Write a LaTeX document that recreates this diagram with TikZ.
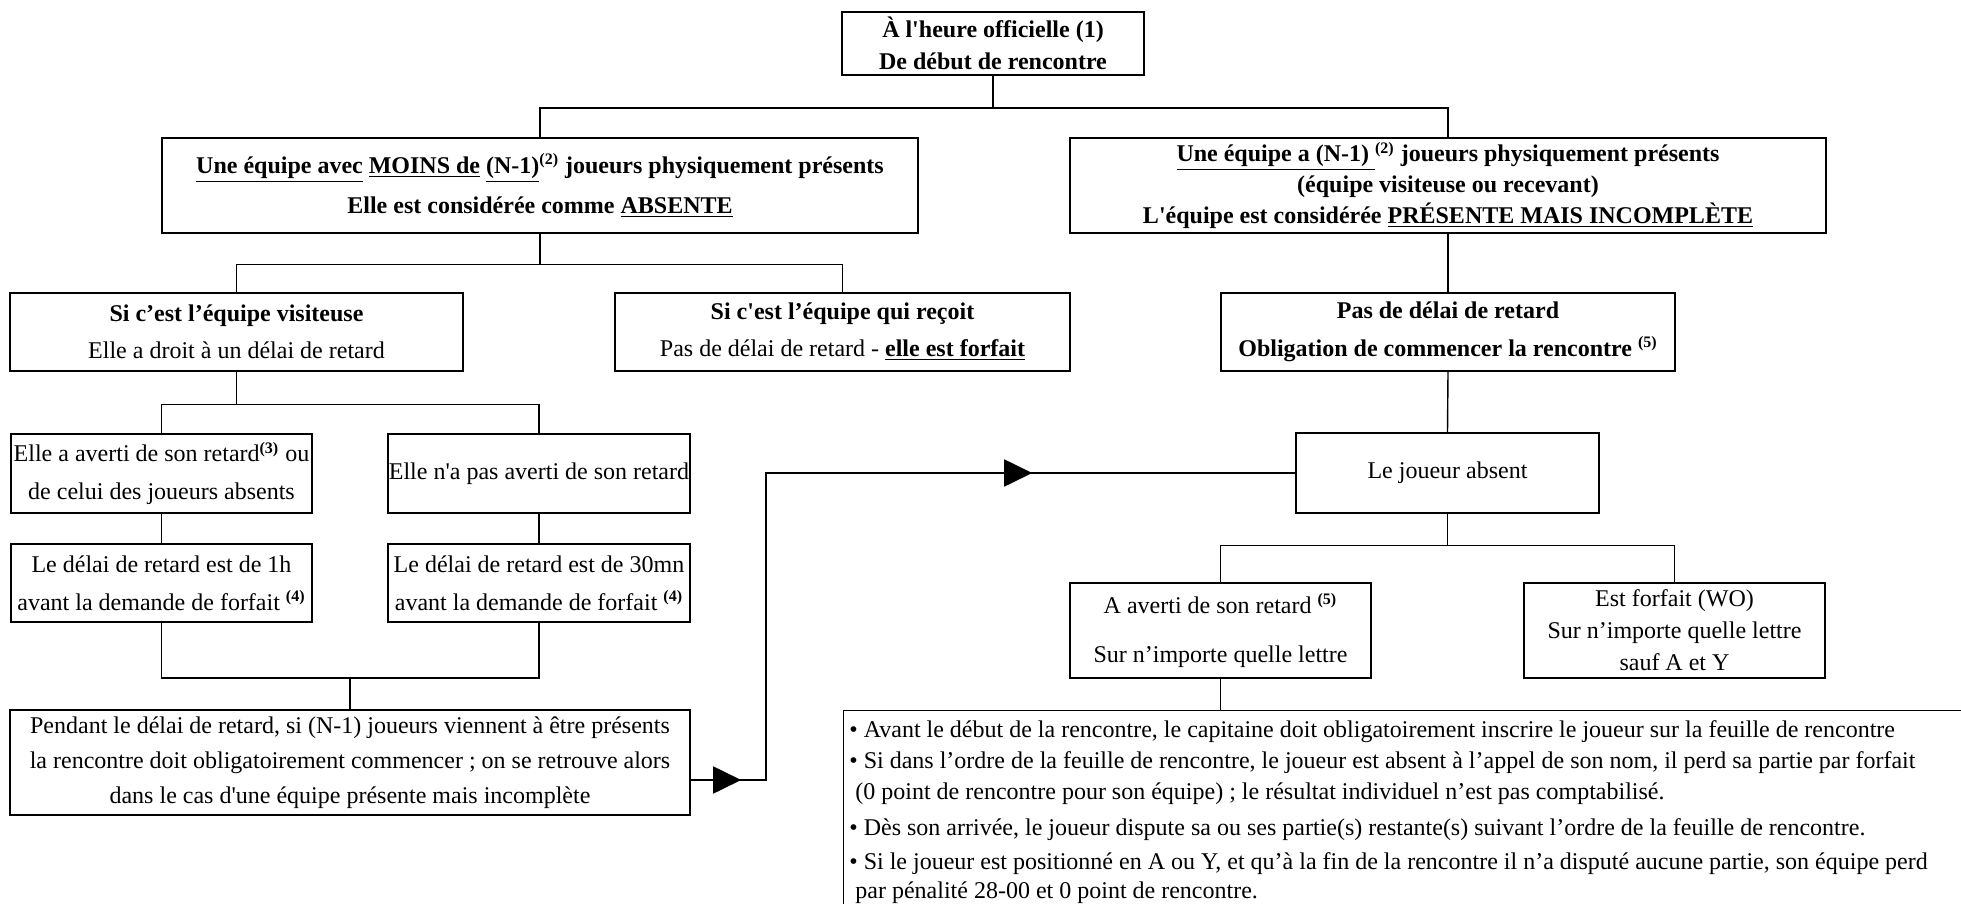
\documentclass[tikz,border=0pt]{standalone}
\usepackage{fontspec}
\setmainfont{Liberation Serif}
\usetikzlibrary{arrows.meta, positioning, calc, decorations.markings}

% straight apostrophe (the TeX mapping would curl ')
\newcommand{\ap}{\textquotesingle}

\begin{document}
\begin{tikzpicture}[x=0.5pt, y=-0.5pt, line join=miter]
	
	%======================
	% PAGE (pixel grid, y downwards)
	%======================
	\useasboundingbox (0,0) rectangle (1961,904);
	
	%======================
	% STYLES
	%======================
	\tikzset{
		box/.style={draw, line width=1.2pt, align=center, inner sep=0pt},
		txt/.style={font=\fontsize{12}{#1}\selectfont},
		btxt/.style={font=\fontsize{12}{#1}\selectfont\bfseries},
		link/.style={line width=0.7pt},
		flow/.style={line width=0.9pt, postaction={decorate},
			decoration={markings,
				mark=at position 25pt with {\arrow{Triangle[length=14pt,width=13.5pt]}},
				mark=at position 324pt with {\arrow{Triangle[length=14pt,width=13.5pt]}}}},
		frame/.style={line width=0.5pt}
	}
	
	%----------------------
	% Level 0: start
	%----------------------
	\node[box, btxt=16, minimum width=151pt, minimum height=31.5pt] (debut) at (993,43.5)
	{À l\ap heure officielle (1)\\De début de rencontre};
	
	%----------------------
	% Level 1: absent / incomplete team
	%----------------------
	\node[box, btxt=20, minimum width=378pt, minimum height=47.5pt] (absente) at (540,185.5)
	{\underline{Une équipe avec} \underline{MOINS de} \underline{(N-1)}\textsuperscript{(2)} joueurs physiquement présents\\
		Elle est considérée comme \underline{ABSENTE}};
	
	\node[box, btxt=15.5, minimum width=378pt, minimum height=47.5pt] (incomplete) at (1448,185.5)
	{\underline{Une équipe a (N-1) }\textsuperscript{(2)} joueurs physiquement présents\\
		(équipe visiteuse ou recevant)\\
		L\ap équipe est considérée \underline{PRÉSENTE MAIS INCOMPLÈTE}};
	
	%----------------------
	% Level 2
	%----------------------
	\node[box, txt=18.5, minimum width=226.5pt, minimum height=39pt] (visiteuse) at (236.5,332)
	{\textbf{Si c’est l’équipe visiteuse}\\Elle a droit à un délai de retard};
	
	\node[box, txt=18.5, minimum width=227.5pt, minimum height=39pt] (recoit) at (842.5,332)
	{\textbf{Si c\ap est l’équipe qui reçoit}\\Pas de délai de retard - \textbf{\underline{elle est forfait}}};
	
	\node[box, btxt=19, minimum width=227pt, minimum height=39pt] (sansdelai) at (1448,332)
	{Pas de délai de retard\\Obligation de commencer la rencontre \textsuperscript{(5)}};
	
	%----------------------
	% Level 3: visiting team, warned or not
	%----------------------
	\node[box, txt=19, minimum width=150.5pt, minimum height=39.5pt] (averti) at (161.5,473.5)
	{Elle a averti de son retard\textsuperscript{\textbf{(3)}} ou\\de celui des joueurs absents};
	
	\node[box, txt=19, minimum width=151pt, minimum height=39.5pt] (nonaverti) at (539,473.5)
	{Elle n\ap a pas averti de son retard};
	
	\node[box, txt=19, minimum width=150.5pt, minimum height=39pt] (uneheure) at (161.5,583)
	{Le délai de retard est de 1h\\avant la demande de forfait \textsuperscript{\textbf{(4)}}};
	
	\node[box, txt=19, minimum width=151pt, minimum height=39pt] (trentemn) at (539,583)
	{Le délai de retard est de 30mn\\avant la demande de forfait \textsuperscript{\textbf{(4)}}};
	
	\node[box, txt=17.5, minimum width=340pt, minimum height=52.5pt] (pendant) at (350,762.5)
	{Pendant le délai de retard, si (N-1) joueurs viennent à être présents\\
		la rencontre doit obligatoirement commencer ; on se retrouve alors\\
		dans le cas d\ap une équipe présente mais incomplète};
	
	%----------------------
	% Right branch: absent player
	%----------------------
	\node[box, txt=19, minimum width=151.5pt, minimum height=40pt] (joueur) at (1447.5,473)
	{Le joueur absent};
	
	\node[box, txt=24.5, minimum width=150.5pt, minimum height=47.5pt] (prevenu) at (1220.5,630.5)
	{A averti de son retard \textsuperscript{\textbf{(5)}}\\Sur n’importe quelle lettre};
	
	\node[box, txt=16, minimum width=150.5pt, minimum height=47.5pt] (forfait) at (1674.5,630.5)
	{Est forfait (WO)\\Sur n’importe quelle lettre\\sauf A et Y};
	
	% open frame of the rules
	\coordinate (coin) at (843,710);
	\draw[frame] (1961,710) -- (coin) -- (843,904);
	
	\node[anchor=north west, align=left, inner sep=0pt, txt=15.5] (regles) at (849,720)
	{\textbullet\ Avant le début de la rencontre, le capitaine doit obligatoirement inscrire le joueur sur la feuille de rencontre\\
		\textbullet\ Si dans l’ordre de la feuille de rencontre, le joueur est absent à l’appel de son nom, il perd sa partie par forfait\\
		\hspace*{3pt}(0 point de rencontre pour son équipe) ; le résultat individuel n’est pas comptabilisé.\\[2.5pt]
		\textbullet\ Dès son arrivée, le joueur dispute sa ou ses partie(s) restante(s) suivant l’ordre de la feuille de rencontre.\\[1.5pt]
		\textbullet\ Si le joueur est positionné en A ou Y, et qu’à la fin de la rencontre il n’a disputé aucune partie, son équipe perd\\[-1pt]
		\hspace*{3pt}par pénalité 28-00 et 0 point de rencontre.};
	
	%======================
	% CONNECTORS
	%======================
	\draw[link] (debut.south) -- ++(0,32) -| (absente.north);
	\draw[link] (debut.south) -- ++(0,32) -| (incomplete.north);
	
	\draw[link] (absente.south) -- ++(0,30) -| (visiteuse.north);
	\draw[link] (absente.south) -- ++(0,30) -| (recoit.north);
	\draw[link] (incomplete.south) -- (sansdelai.north);
	
	\draw[link] (visiteuse.south) -- ++(0,32) -| (averti.north);
	\draw[link] (visiteuse.south) -- ++(0,32) -| (nonaverti.north);
	\draw[link] (averti.south) -- (uneheure.north);
	\draw[link] (nonaverti.south) -- (trentemn.north);
	
	% both delays lead to the same case
	\coordinate (jonction) at ($(pendant.north)+(0,-31)$);
	\draw[link] (uneheure.south) |- (jonction) -| (trentemn.south);
	\draw[link] (jonction) -- (pendant.north);
	
	\draw[link] (sansdelai.south) -- (joueur.north);
	\draw[link] (joueur.south) -- ++(0,31) -| (prevenu.north);
	\draw[link] (joueur.south) -- ++(0,31) -| (forfait.north);
	\draw[link] (prevenu.south) -- (prevenu.south |- coin);
	
	% back to the incomplete team case
	\coordinate (sortie) at ($(pendant.east)+(0,17.5)$);
	\draw[flow] (sortie) -- ++(75,0) |- (joueur.west);
	
\end{tikzpicture}
\end{document}
